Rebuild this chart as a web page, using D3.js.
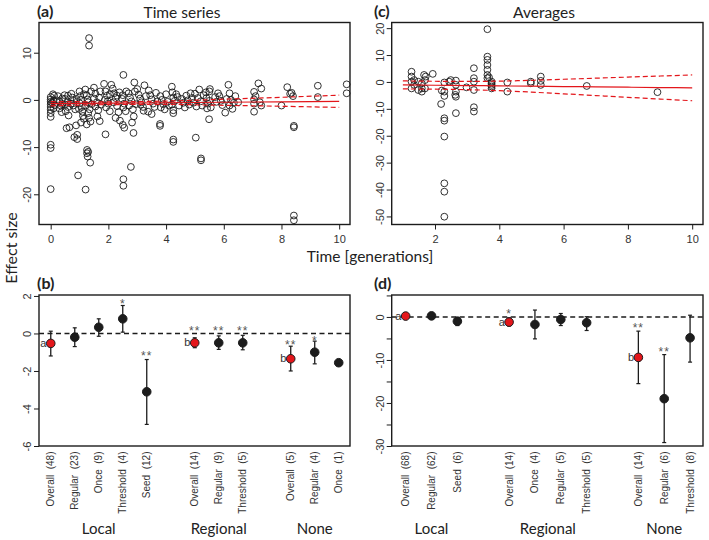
<!DOCTYPE html>
<html><head><meta charset="utf-8">
<script src="https://cdn.jsdelivr.net/npm/d3@7"></script>
<style>
body{margin:0;background:#fff}
svg{display:block}
.tick text{font-family:"Liberation Sans",Arial,sans-serif;font-size:11px;fill:#333}
.ttl{font-family:Lato,"Open Sans",sans-serif;fill:#222}
.cat{font-family:"Liberation Sans",Arial,sans-serif;font-size:10px;fill:#333;white-space:pre}
</style></head><body>
<svg id="c" width="709" height="540"></svg>
<script>
// ---------- DATA ----------
// (a) Time series: [time in generations, effect size]
const pointsA = [
[0,0.6],[0,0.1],[0,-0.4],[0,-0.9],[0,-1.5],[0,-2.1],[0,-2.8],[0,-3.6],[0,-9.5],[0,-10.2],[0,-18.9],
[0.08,1.2],[0.12,0.9],[0.1,-0.2],[0.15,-1.1],[0.05,-0.6],[0.1,-1.8],
[0.25,0.8],[0.3,-0.3],[0.35,-1.2],[0.3,-1.8],[0.4,0.3],[0.4,-0.9],[0.22,-0.1],[0.38,-2.6],
[0.48,1.0],[0.5,0.2],[0.55,-0.6],[0.6,-1.5],[0.52,-2.4],[0.62,-3.3],[0.55,-6.0],[0.65,-5.8],[0.6,0.9],[0.5,-1.0],
[0.72,1.3],[0.75,0.5],[0.8,-0.2],[0.78,-1.2],[0.85,-2.0],[0.88,-5.4],[0.82,-7.9],[0.92,-7.4],[0.92,-8.3],[0.95,-16],[0.9,0.2],[0.7,-0.8],
[1.0,1.8],[1.02,0.8],[1.05,0.0],[1.0,-0.7],[1.08,-1.5],[1.1,-2.5],[1.12,-3.4],[1.05,-4.8],[1.15,-4.0],[1.15,1.2],[0.98,-1.9],
[1.2,2.2],[1.25,1.0],[1.28,0.1],[1.3,-0.5],[1.22,-1.2],[1.35,-2.0],[1.3,-2.8],[1.33,-3.8],[1.25,-5.2],[1.33,13.1],[1.33,11.5],[1.21,-19],[1.26,-10.6],[1.26,-11.3],[1.28,-12],[1.3,-11],[1.37,-13.3],[1.4,1.8],[1.42,-0.9],[1.38,-4.6],
[1.5,2.6],[1.55,1.3],[1.5,0.3],[1.6,-0.5],[1.55,-1.4],[1.65,-2.2],[1.7,-4.5],[1.62,-3.5],[1.72,1.8],[1.68,0.5],[1.75,-1.0],
[1.85,3.4],[1.9,1.8],[1.95,0.9],[1.88,0.0],[2.0,-0.8],[1.92,-1.6],[2.05,-2.4],[1.9,-7.3],[2.1,3.2],[2.05,1.2],[1.98,-0.3],
[2.15,2.4],[2.2,1.4],[2.25,0.4],[2.18,-0.5],[2.3,-1.3],[2.35,-2.6],[2.25,-3.8],[2.4,-4.4],[2.38,1.6],[2.3,0.9],
[2.52,5.3],[2.5,1.0],[2.48,0.2],[2.55,-0.8],[2.52,-1.6],[2.6,-2.4],[2.5,-5.3],[2.55,-5.9],[2.52,-16.8],[2.52,-18.2],[2.62,1.8],
[2.7,1.4],[2.75,0.5],[2.8,-0.3],[2.72,-1.2],[2.85,-2.0],[2.88,-3.5],[2.82,-4.8],[2.78,-14.2],[2.87,-7.0],[2.9,3.7],[2.92,1.8],[2.95,-0.9],
[3.05,1.1],[3.1,0.3],[3.15,-0.5],[3.2,-1.5],[3.0,2.3],[3.25,3.1],[3.3,0.8],[3.22,-2.3],[3.12,-1.0],
[3.4,2.0],[3.45,1.0],[3.5,0.1],[3.55,-0.8],[3.6,-1.5],[3.38,-2.5],[3.5,-3.0],[3.65,1.5],[3.7,-0.3],
[3.79,-5.1],[3.79,-5.5],[3.8,0.8],[3.85,0.0],[3.9,-0.9],[3.95,-2.0],[4.0,1.2],[4.05,-0.4],[4.1,-1.2],[3.82,-1.6],
[4.2,2.8],[4.22,1.6],[4.25,0.5],[4.2,-1.0],[4.25,-2.2],[4.25,-2.8],[4.25,-8.4],[4.25,-8.9],[4.3,-0.2],[4.4,0.6],[4.45,-1.2],[4.35,1.2],
[4.55,0.2],[4.6,-0.6],[4.65,-1.6],[4.7,0.9],[4.75,-0.1],[4.8,-1.0],[4.85,1.4],[4.9,0.4],
[4.95,-0.6],[5.03,-8.0],[5.0,1.3],[5.05,-1.4],[5.1,0.4],[5.15,2.2],[5.21,-12.4],[5.21,-12.8],[5.2,-0.3],[5.25,-1.2],[5.3,1.0],
[5.38,1.6],[5.4,0.4],[5.45,-0.8],[5.49,-4.1],[5.5,1.8],[5.52,2.3],[5.5,-0.2],[5.55,-1.6],[5.42,-1.8],
[5.7,0.6],[5.75,-0.4],[5.85,0.8],[5.9,-0.2],[5.95,-1.1],[5.8,1.4],
[6.16,3.2],[6.2,1.4],[6.1,0.2],[6.25,0.0],[6.2,-1.2],[6.3,-1.9],[6.05,-2.7],[6.35,-0.6],[6.4,0.8],[6.5,-0.5],
[7.05,1.7],[7.1,0.8],[7.05,0.1],[7.05,-0.8],[7.05,-2.5],[7.2,3.5],[7.3,2.4],[7.3,-1.2],[7.25,-0.5],
[8.2,2.7],[8.3,1.3],[8.35,1.5],[8.4,0.8],[8.0,-1.2],[8.43,-5.5],[8.43,-5.8],[8.43,-24.5],[8.43,-25.5],
[9.26,3.0],[9.26,0.6],
[10.26,3.3],[10.26,1.4]
];
const fitTimeA = [0, 2, 4, 6, 8, 10];
const fitA     = [-0.8, -0.7, -0.6, -0.5, -0.4, -0.3];
const upperA   = [-0.35, -0.4, -0.25, 0.15, 0.55, 1.0];
const lowerA   = [-1.25, -1.0, -0.95, -1.15, -1.35, -1.6];

// (c) Averages
const pointsC = [
[1.27,3.8],[1.27,2.0],[1.27,0.1],[1.27,-2.4],[1.35,0.7],[1.35,-1.1],[1.48,0.1],[1.48,-3.0],[1.59,-0.5],[1.59,-3.6],[1.59,-2.4],
[1.66,2.6],[1.71,2.0],[1.69,-2.4],[1.69,0.7],[1.93,3.0],[2.19,-8.2],[2.21,-3.2],[2.29,-0.2],[2.29,-3.6],[2.29,-5.2],[2.29,-13.5],
[2.29,-14.4],[2.29,-20.3],[2.29,-37.7],[2.29,-40.8],[2.29,-50.1],[2.49,0.7],[2.44,0.1],[2.65,0.5],[2.65,-1.1],[2.65,-3.6],[2.63,-4.8],
[2.65,-5.5],[2.65,-11.6],[2.98,-2.0],[3.21,5.1],[3.21,1.4],[3.21,0.1],[3.21,-3.0],[3.21,-9.4],[3.21,-11.0],[3.63,19.6],[3.63,9.4],
[3.63,8.2],[3.63,6.3],[3.63,4.5],[3.63,2.6],[3.63,1.4],[3.68,1.7],[3.76,0.1],[3.76,-0.5],[3.76,-1.1],[3.76,-1.7],[3.76,-2.4],
[4.25,-0.2],[4.25,-3.6],[4.98,0.1],[4.98,-0.5],[5.29,2.0],[5.29,0.4],[5.29,-1.1],[6.72,-1.5],[8.92,-3.8]
];
const fitTimeC = [1, 2, 3, 4, 5, 6, 7, 8, 9, 10];
const fitC     = [-1.1, -1.22, -1.34, -1.47, -1.59, -1.71, -1.83, -1.96, -2.08, -2.2];
const upperC   = [0.4, 0.25, 0.2, 0.3, 0.6, 1.0, 1.4, 1.8, 2.2, 2.6];
const lowerC   = [-2.6, -2.69, -2.88, -3.24, -3.78, -4.42, -5.06, -5.72, -6.36, -7.0];

// (b) time-series effect sizes by dispersal / regime
const groupB  = ["Local","Local","Local","Local","Local","Regional","Regional","Regional","None","None","None"];
const catB    = ["Overall","Regular","Once","Threshold","Seed","Overall","Regular","Threshold","Overall","Regular","Once"];
const nB      = [48, 23, 9, 4, 12, 14, 9, 5, 5, 4, 1];
const meanB   = [-0.53, -0.2, 0.33, 0.78, -3.11, -0.5, -0.5, -0.5, -1.35, -1.0, -1.56];
const loB     = [-1.2, -0.7, -0.15, 0.07, -4.85, -0.76, -0.85, -0.87, -2.0, -1.62, null];
const hiB     = [0.12, 0.3, 0.78, 1.49, -1.39, -0.23, -0.13, -0.1, -0.68, -0.41, null];
const sigB    = ["", "", "", "*", "**", "**", "**", "**", "**", "*", ""];
const sigAtB  = [null, null, null, 1.69, -1.12, 0.25, 0.25, 0.25, -0.5, -0.32, null];
const letterB = ["a", "", "", "", "", "b", "", "", "b", "", ""];

// (d) averages by dispersal / regime
const groupD  = ["Local","Local","Local","Regional","Regional","Regional","Regional","None","None","None"];
const catD    = ["Overall","Regular","Seed","Overall","Once","Regular","Threshold","Overall","Regular","Threshold"];
const nD      = [68, 62, 6, 14, 4, 5, 5, 14, 6, 8];
const meanD   = [0.2, 0.25, -1.0, -1.2, -1.75, -0.6, -1.35, -9.4, -19.0, -4.85];
const loD     = [-0.3, -0.2, -2.0, -2.1, -5.1, -2.0, -3.15, -15.5, -29.2, -10.5];
const hiD     = [0.6, 0.6, -0.1, -0.2, 1.6, 0.8, 0.05, -3.3, -8.75, 0.4];
const sigD    = ["", "", "", "*", "", "", "", "**", "**", ""];
const sigAtD  = [null, null, null, 1.1, null, null, null, -2.1, -7.6, null];
const letterD = ["a", "", "", "a", "", "", "", "b", "", ""];

// tick values
const ticksAx = [0, 2, 4, 6, 8, 10];
const ticksAy = [-20, -10, 0, 10];
const ticksCx = [2, 4, 6, 8, 10];
const ticksCy = [-50, -40, -30, -20, -10, 0, 10, 20];
const ticksBy = [-6, -4, -2, 0, 2];
const ticksDy = [-30, -25, -20, -15, -10, -5, 0, 5];
const labelsDy = [-30, -20, -10, 0];

// ---------- DRAW ----------
const svg = d3.select("#c");
const RED = "#e3161b", INK = "#1c1c1c";

function yAxis(x0, scale, ticks, labelled) {
  const g = svg.append("g").attr("transform", `translate(${x0},0)`);
  g.call(d3.axisLeft(scale).tickValues(ticks).tickSize(5)
    .tickFormat(d => (labelled ? labelled.includes(d) : true) ? String(d) : ""));
  g.select(".domain").remove();
  g.selectAll(".tick line").attr("stroke", INK);
  g.selectAll(".tick text").attr("x", 0).attr("y", -12).attr("dy", "0.35em")
    .attr("text-anchor", "middle").attr("transform", "rotate(-90)");
}
function xAxis(y0, scale, ticks) {
  const g = svg.append("g").attr("transform", `translate(0,${y0})`);
  g.call(d3.axisBottom(scale).tickValues(ticks).tickSize(5).tickPadding(5.5).tickFormat(d => String(d)));
  g.select(".domain").remove();
  g.selectAll(".tick line").attr("stroke", INK);
}
function frame(x, y) {
  svg.append("rect").attr("x", x.range()[0]).attr("y", y.range()[1])
    .attr("width", x.range()[1] - x.range()[0]).attr("height", y.range()[0] - y.range()[1])
    .attr("fill", "none").attr("stroke", INK).attr("stroke-width", 1.4);
}
function title(x, y, lab, txt, tx) {
  svg.append("text").attr("class", "ttl").attr("x", x).attr("y", y).attr("font-size", 16)
    .attr("font-weight", "bold").attr("font-family", "'Liberation Sans',Arial,sans-serif").text(lab);
  if (txt) svg.append("text").attr("class", "ttl").attr("x", tx).attr("y", y + 0.5).attr("font-size", 15.5)
    .attr("text-anchor", "middle").text(txt);
}

function scatterPanel(pts, fitT, fit, up, lo, x, y, tx, ty) {
  frame(x, y);
  const g = svg.append("g");
  g.selectAll("circle").data(pts).join("circle")
    .attr("cx", d => x(d[0])).attr("cy", d => y(d[1])).attr("r", 3.4)
    .attr("fill", "none").attr("stroke", INK).attr("stroke-width", 0.9);
  const mk = arr => d3.line().x((d, i) => x(fitT[i])).y(d => y(d)).curve(d3.curveMonotoneX)(arr);
  g.append("path").attr("d", mk(fit)).attr("fill", "none").attr("stroke", RED).attr("stroke-width", 1.2);
  [up, lo].forEach(a => g.append("path").attr("d", mk(a)).attr("fill", "none")
    .attr("stroke", RED).attr("stroke-width", 1.2).attr("stroke-dasharray", "5,3"));
  xAxis(y.range()[0], x, tx);
  yAxis(x.range()[0], y, ty);
}

function positions(groups) {
  const p = []; let idx = 0;
  groups.forEach((g, i) => { if (i > 0 && g !== groups[i - 1]) idx++; p.push(idx); idx++; });
  return p;
}

function dotPanel(groups, cats, ns, mean, lo, hi, sig, sigAt, letters, x, y, ticks, labelled) {
  frame(x, y);
  const pos = positions(groups);
  const [x0, x1] = x.range();
  svg.append("line").attr("x1", x0).attr("x2", x1).attr("y1", y(0)).attr("y2", y(0))
    .attr("stroke", INK).attr("stroke-width", 1.6).attr("stroke-dasharray", "5,3.5");
  const g = svg.append("g");
  mean.forEach((m, i) => {
    const cx = x(pos[i]);
    if (lo[i] !== null) {
      g.append("line").attr("x1", cx).attr("x2", cx).attr("y1", y(lo[i])).attr("y2", y(hi[i]))
        .attr("stroke", INK).attr("stroke-width", 1.3);
      [lo[i], hi[i]].forEach(v => g.append("line").attr("x1", cx - 2).attr("x2", cx + 2)
        .attr("y1", y(v)).attr("y2", y(v)).attr("stroke", INK).attr("stroke-width", 1.2));
    }
    g.append("circle").attr("cx", cx).attr("cy", y(m)).attr("r", 4.3)
      .attr("fill", letters[i] ? RED : INK).attr("stroke", INK).attr("stroke-width", 1);
    if (sig[i]) g.append("text").attr("x", cx).attr("y", y(sigAt[i]) + 6)
      .attr("text-anchor", "middle").attr("font-family", "'Liberation Sans',Arial,sans-serif")
      .attr("font-size", 12).attr("letter-spacing", 1).attr("fill", "#555").text(sig[i]);
    if (letters[i]) g.append("text").attr("x", cx - 4.3).attr("y", y(m) + 3.5)
      .attr("text-anchor", "end").attr("font-family", "'Liberation Sans',Arial,sans-serif")
      .attr("font-size", 11).attr("fill", "#333").text(letters[i]);
    svg.append("text").attr("class", "cat").attr("text-anchor", "end")
      .attr("transform", `translate(${cx},451.5) rotate(-90)`).attr("dy", "0.35em")
      .text(`${cats[i]}  (${ns[i]})`);
  });
  // group labels
  const names = Array.from(new Set(groups));
  names.forEach(nm => {
    const ps = pos.filter((p, i) => groups[i] === nm);
    svg.append("text").attr("class", "ttl").attr("font-size", 15).attr("text-anchor", "middle")
      .attr("x", x(d3.mean(ps))).attr("y", 534).text(nm);
  });
  yAxis(x0, y, ticks, labelled);
}

// scales
const xA = d3.scaleLinear().domain([-0.405, 10.375]).range([39, 350]);
const yA = d3.scaleLinear().domain([-26.4, 16.4]).range([224.5, 22.5]);
const xC = d3.scaleLinear().domain([0.653, 10.336]).range([391.7, 703]);
const yC = d3.scaleLinear().domain([-53.0, 22.1]).range([224.5, 22.5]);
const xB = d3.scaleLinear().domain([-0.49, 12.47]).range([39, 350]);
const yB = d3.scaleLinear().domain([-6.0, 2.05]).range([446, 295]);
const xD = d3.scaleLinear().domain([-0.54, 11.5]).range([391.7, 703]);
const yD = d3.scaleLinear().domain([-30, 5.1]).range([446, 295]);

scatterPanel(pointsA, fitTimeA, fitA, upperA, lowerA, xA, yA, ticksAx, ticksAy);
scatterPanel(pointsC, fitTimeC, fitC, upperC, lowerC, xC, yC, ticksCx, ticksCy);
dotPanel(groupB, catB, nB, meanB, loB, hiB, sigB, sigAtB, letterB, xB, yB, ticksBy, null);
dotPanel(groupD, catD, nD, meanD, loD, hiD, sigD, sigAtD, letterD, xD, yD, ticksDy, labelsDy);

title(37, 17, "(a)", "Time series", 182);
title(374, 17, "(c)", "Averages", 544);
title(37, 289, "(b)");
title(374, 289, "(d)");

svg.append("text").attr("class", "ttl").attr("font-size", 15.5).attr("text-anchor", "middle")
  .attr("x", 370).attr("y", 262).text("Time [generations]");
svg.append("text").attr("class", "ttl").attr("font-size", 16).attr("text-anchor", "middle")
  .attr("transform", "translate(17,248) rotate(-90)").text("Effect size");
</script>
</body></html>
